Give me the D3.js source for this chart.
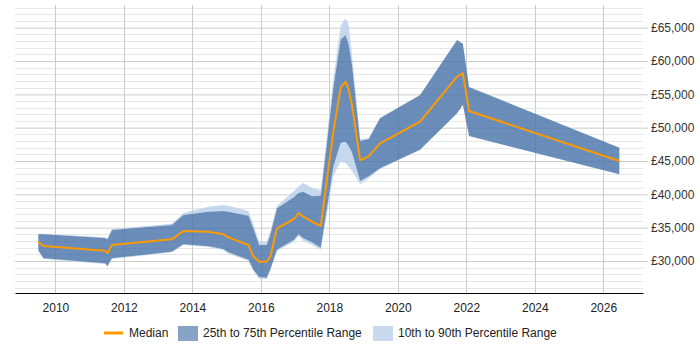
<!DOCTYPE html>
<html>
<head>
<meta charset="utf-8">
<script src="https://cdn.jsdelivr.net/npm/d3@7"></script>
<style>
  body { margin: 0; background: #fff; }
  svg { display: block; font-family: "Liberation Sans", Arial, sans-serif; }
</style>
</head>
<body>
<svg id="viz"></svg>
<script>
// salary percentiles over time (decimal years)
var years  = [2009.50, 2009.65, 2011.45, 2011.52, 2011.65, 2013.40, 2013.74, 2014.46, 2014.91, 2015.05,
              2015.64, 2015.78, 2015.95, 2016.17, 2016.28, 2016.47, 2016.97, 2017.10, 2017.24, 2017.49,
              2017.75, 2018.12, 2018.33, 2018.47, 2018.56, 2018.66, 2018.90, 2019.15, 2019.48, 2020.65,
              2021.73, 2021.90, 2022.08, 2026.47];
var p10    = [31500, 30300, 29550, 29150, 30300, 31300, 32400, 32100, 31600, 31100,
              30000, 28500, 27300, 27300, 28600, 31500, 32900, 33700, 33000, 32400,
              31700, 42800, 44900, 44700, 44200, 43500, 41500, 42400, 43800, 46700,
              52150, 53400, 48750, 43000];
var p25    = [31600, 30400, 29650, 29250, 30400, 31400, 32500, 32200, 31800, 31300,
              30200, 28700, 27600, 27500, 28800, 31700, 33200, 34000, 33400, 32800,
              32000, 44200, 47700, 47900, 47300, 46300, 42000, 42700, 43900, 46700,
              52150, 53400, 48750, 43000];
var median = [32900, 32250, 31550, 31150, 32400, 33250, 34500, 34400, 34000, 33550,
              32400, 30700, 29900, 29900, 30700, 34900, 36300, 37200, 36650, 35900,
              35250, 49500, 56000, 56900, 55800, 53400, 45100, 45700, 47650, 50900,
              57650, 58150, 52500, 45000];
var p75    = [34000, 34000, 33450, 33250, 34650, 35400, 36900, 37400, 37500, 37400,
              36800, 34900, 32400, 32400, 34000, 37900, 39600, 40200, 40400, 39700,
              39800, 56100, 63200, 63900, 62600, 59500, 48000, 48300, 51400, 54900,
              63150, 62600, 56100, 47000];
var p90    = [34100, 34100, 33550, 33350, 34800, 35600, 37200, 38150, 38400, 38300,
              37500, 35500, 32900, 32900, 34500, 38300, 40500, 41200, 41700, 41000,
              40600, 57500, 65300, 66400, 65600, 61000, 48300, 48400, 51500, 54900,
              63150, 62600, 56100, 47000];

var xTicks = [2010, 2012, 2014, 2016, 2018, 2020, 2022, 2024, 2026];
var yTicks = [30000, 35000, 40000, 45000, 50000, 55000, 60000, 65000];
var legendItems = ["Median", "25th to 75th Percentile Range", "10th to 90th Percentile Range"];

var width = 700;
var height = 350;

var svg = d3.select("#viz")
	.attr("width", width)
	.attr("height", height)

var x = d3.scaleLinear().domain([2008.82, 2027.16]).range([15, 643])
var y = d3.scaleLinear().domain([25200, 68400]).range([293, 5])

var rows = years.map((yr, i) => ({yr: yr, p10: p10[i], p25: p25[i], med: median[i], p75: p75[i], p90: p90[i]}))

// minor gridlines every 1000
var minor = d3.range(26000, 68001, 1000).filter(v => v % 5000 != 0)
svg.selectAll(".minor")
	.data(minor)
	.join("line")
	.attr("class", "minor")
	.attr("x1", 15).attr("x2", 643)
	.attr("y1", d => Math.round(y(d)) + 0.5).attr("y2", d => Math.round(y(d)) + 0.5)
	.style("stroke", "#e6e6e6")

// y axis on the right, gridlines from ticks
var yAxis = svg.append("g")
	.attr("transform", "translate(643,0)")
	.call(d3.axisRight(y).tickValues(yTicks).tickSize(-628).tickPadding(8)
		.tickFormat(d => "£" + d3.format(",")(d)))
yAxis.select(".domain").remove()
yAxis.selectAll("line").style("stroke", "#cccccc").attr("x2", 5).attr("x1", -628)
yAxis.selectAll("text").style("font-size", "12px").style("fill", "#333")
	.attr("x", 8)

// x gridlines
svg.selectAll(".vgrid")
	.data(xTicks)
	.join("line")
	.attr("class", "vgrid")
	.attr("x1", d => Math.round(x(d)) + 0.5).attr("x2", d => Math.round(x(d)) + 0.5)
	.attr("y1", 5).attr("y2", 293)
	.style("stroke", "#cccccc")

// light band only outside the 25-75 band, so the dark band keeps its colour
var upperLight = d3.area().x(d => x(d.yr)).y0(d => y(d.p75)).y1(d => y(d.p90))
var lowerLight = d3.area().x(d => x(d.yr)).y0(d => y(d.p10)).y1(d => y(d.p25))
var area2575 = d3.area().x(d => x(d.yr)).y0(d => y(d.p25)).y1(d => y(d.p75))
var medLine = d3.line().x(d => x(d.yr)).y(d => y(d.med))

svg.selectAll(".light")
	.data([upperLight, lowerLight])
	.join("path")
	.attr("class", "light")
	.attr("d", a => a(rows))
	.style("fill", "#b9d0ea").style("fill-opacity", 0.8)

svg.append("path").datum(rows)
	.attr("d", area2575)
	.style("fill", "#4572a7").style("fill-opacity", 0.8)

svg.append("path").datum(rows)
	.attr("d", medLine)
	.style("fill", "none")
	.style("stroke", "#ff9900")
	.style("stroke-width", 2)
	.style("stroke-linejoin", "round")

// x axis
var xAxis = svg.append("g")
	.attr("transform", "translate(0,293)")
	.call(d3.axisBottom(x).tickValues(xTicks).tickSize(0).tickPadding(10).tickFormat(d3.format("d")))
xAxis.select(".domain").style("stroke", "#000")
xAxis.selectAll("text").style("font-size", "12px").style("fill", "#222")

// legend
var legend = svg.append("g").attr("transform", "translate(0,333)")
legend.append("line")
	.attr("x1", 104).attr("x2", 123).attr("y1", 0).attr("y2", 0)
	.style("stroke", "#ff9900").style("stroke-width", 3)
legend.append("rect")
	.attr("x", 178).attr("y", -7).attr("width", 20).attr("height", 15)
	.style("fill", "#4572a7").style("fill-opacity", 0.65)
legend.append("rect")
	.attr("x", 373).attr("y", -7).attr("width", 20).attr("height", 15)
	.style("fill", "#b9d0ea").style("fill-opacity", 0.8)
var legendX = [129, 203, 398]
legend.selectAll("text")
	.data(legendItems)
	.join("text")
	.attr("x", (d, i) => legendX[i])
	.attr("y", 0)
	.attr("dy", "0.35em")
	.style("font-size", "12px")
	.style("fill", "#222")
	.text(d => d)
</script>
</body>
</html>
